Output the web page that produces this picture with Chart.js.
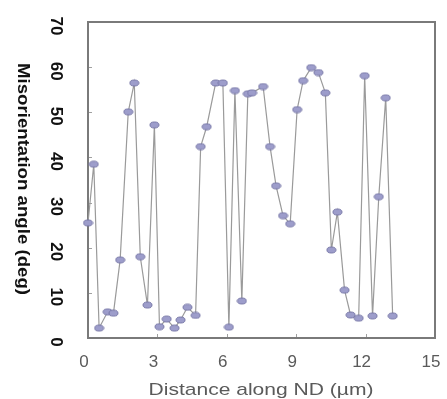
<!DOCTYPE html>
<html>
<head>
<meta charset="utf-8">
<script src="https://cdn.jsdelivr.net/npm/chart.js@4"></script>
<style>
  html, body { margin: 0; padding: 0; background: #fff; }
</style>
</head>
<body>
<canvas id="chart" width="447" height="399"></canvas>
<script>
// distance along ND (um) and misorientation angle (deg)
const distance = [0, 0.25, 0.48, 0.85, 1.1, 1.39, 1.74, 2.0, 2.26, 2.57, 2.87, 3.09, 3.4, 3.74, 4.0, 4.3,
  4.65, 4.87, 5.13, 5.52, 5.83, 6.09, 6.35, 6.65, 6.91, 7.09, 7.57, 7.87, 8.13, 8.43, 8.74, 9.04,
  9.3, 9.65, 9.96, 10.26, 10.52, 10.78, 11.09, 11.35, 11.7, 11.96, 12.3, 12.57, 12.87, 13.17];
const angle = [25.5, 38.5, 2.2, 5.8, 5.5, 17.3, 50.1, 56.5, 18.0, 7.3, 47.2, 2.5, 4.2, 2.2, 4.0, 6.8,
  5.0, 42.4, 46.8, 56.5, 56.5, 2.4, 54.8, 8.2, 54.1, 54.3, 55.7, 42.4, 33.7, 27.1, 25.3, 50.6,
  57.0, 59.9, 58.8, 54.3, 19.5, 27.9, 10.6, 5.1, 4.4, 58.1, 4.9, 31.3, 53.2, 4.9];
const xTickLabels = [0, 3, 6, 9, 12, 15];
const yTickLabels = [0, 10, 20, 30, 40, 50, 60, 70];
const xTitle = 'Distance along ND (\u00b5m)';
const yTitle = 'Misorientation angle (deg)';

const FONT = '"Liberation Sans", Arial, sans-serif';

// flat lavender marker
function makeMarker() {
    const c = document.createElement('canvas');
    c.width = 11;
    c.height = 8;
    const g = c.getContext('2d');
    g.beginPath();
    g.ellipse(5.5, 4, 4.5, 3, 0, 0, Math.PI * 2);
    g.fillStyle = '#9d9dcb';
    g.fill();
    g.lineWidth = 1;
    g.strokeStyle = '#7676a6';
    g.stroke();
    return c;
}

// text squeezed/stretched along its own direction to a given length
function fitText(ctx, text, cx, cy, angle, length) {
    const w = ctx.measureText(text).width;
    ctx.save();
    ctx.translate(cx, cy);
    ctx.rotate(angle);
    ctx.scale(length / w, 1);
    ctx.fillText(text, 0, 0);
    ctx.restore();
}

const frame = {
    id: 'frame',
    beforeDatasetsDraw(chart) {
        const { ctx, chartArea: a, scales: { x, y } } = chart;
        ctx.save();
        ctx.strokeStyle = '#a0a0a0';
        ctx.lineWidth = 1;
        yTickLabels.forEach(v => {
            const py = Math.round(y.getPixelForValue(v)) + 0.5;
            ctx.beginPath();
            ctx.moveTo(a.left, py);
            ctx.lineTo(a.left + 4, py);
            ctx.stroke();
        });
        xTickLabels.forEach(v => {
            const px = Math.round(x.getPixelForValue(v)) + 0.5;
            ctx.beginPath();
            ctx.moveTo(px, a.bottom);
            ctx.lineTo(px, a.bottom - 4);
            ctx.stroke();
        });
        ctx.strokeStyle = '#7a7a7a';
        ctx.lineWidth = 2;
        ctx.strokeRect(a.left, a.top, a.right - a.left, a.bottom - a.top);
        ctx.restore();
    },
    afterDraw(chart) {
        const { ctx, scales: { x, y } } = chart;
        ctx.save();
        ctx.textAlign = 'center';
        ctx.textBaseline = 'middle';

        // y axis: labels and title turned clockwise
        ctx.fillStyle = '#111';
        ctx.font = 'bold 17px ' + FONT;
        yTickLabels.forEach(v => {
            ctx.save();
            ctx.translate(56, y.getPixelForValue(v) + 4);
            ctx.rotate(Math.PI / 2);
            ctx.fillText(String(v), 0, 0);
            ctx.restore();
        });
        ctx.font = 'bold 16px ' + FONT;
        fitText(ctx, yTitle, 22, 179, Math.PI / 2, 232);

        // x axis
        ctx.fillStyle = '#5a5a5a';
        ctx.font = '17px ' + FONT;
        xTickLabels.forEach(v => {
            ctx.fillText(String(v), x.getPixelForValue(v) - 4, 362);
        });
        fitText(ctx, xTitle, 261, 390, 0, 225);
        ctx.restore();
    }
};

new Chart(document.getElementById('chart'), {
    type: 'scatter',
    data: {
        datasets: [{
            data: distance.map((d, i) => ({ x: d, y: angle[i] })),
            showLine: true,
            borderColor: '#9a9a9a',
            borderWidth: 1.2,
            pointStyle: makeMarker(),
            pointRadius: 4,
            clip: false
        }]
    },
    options: {
        responsive: false,
        animation: false,
        layout: { padding: { left: 88, top: 22, right: 12, bottom: 61 } },
        scales: {
            x: { type: 'linear', min: 0, max: 15, display: false },
            y: { type: 'linear', min: 0, max: 70, display: false }
        },
        plugins: {
            legend: { display: false },
            tooltip: { enabled: false }
        }
    },
    plugins: [frame]
});
</script>
</body>
</html>
